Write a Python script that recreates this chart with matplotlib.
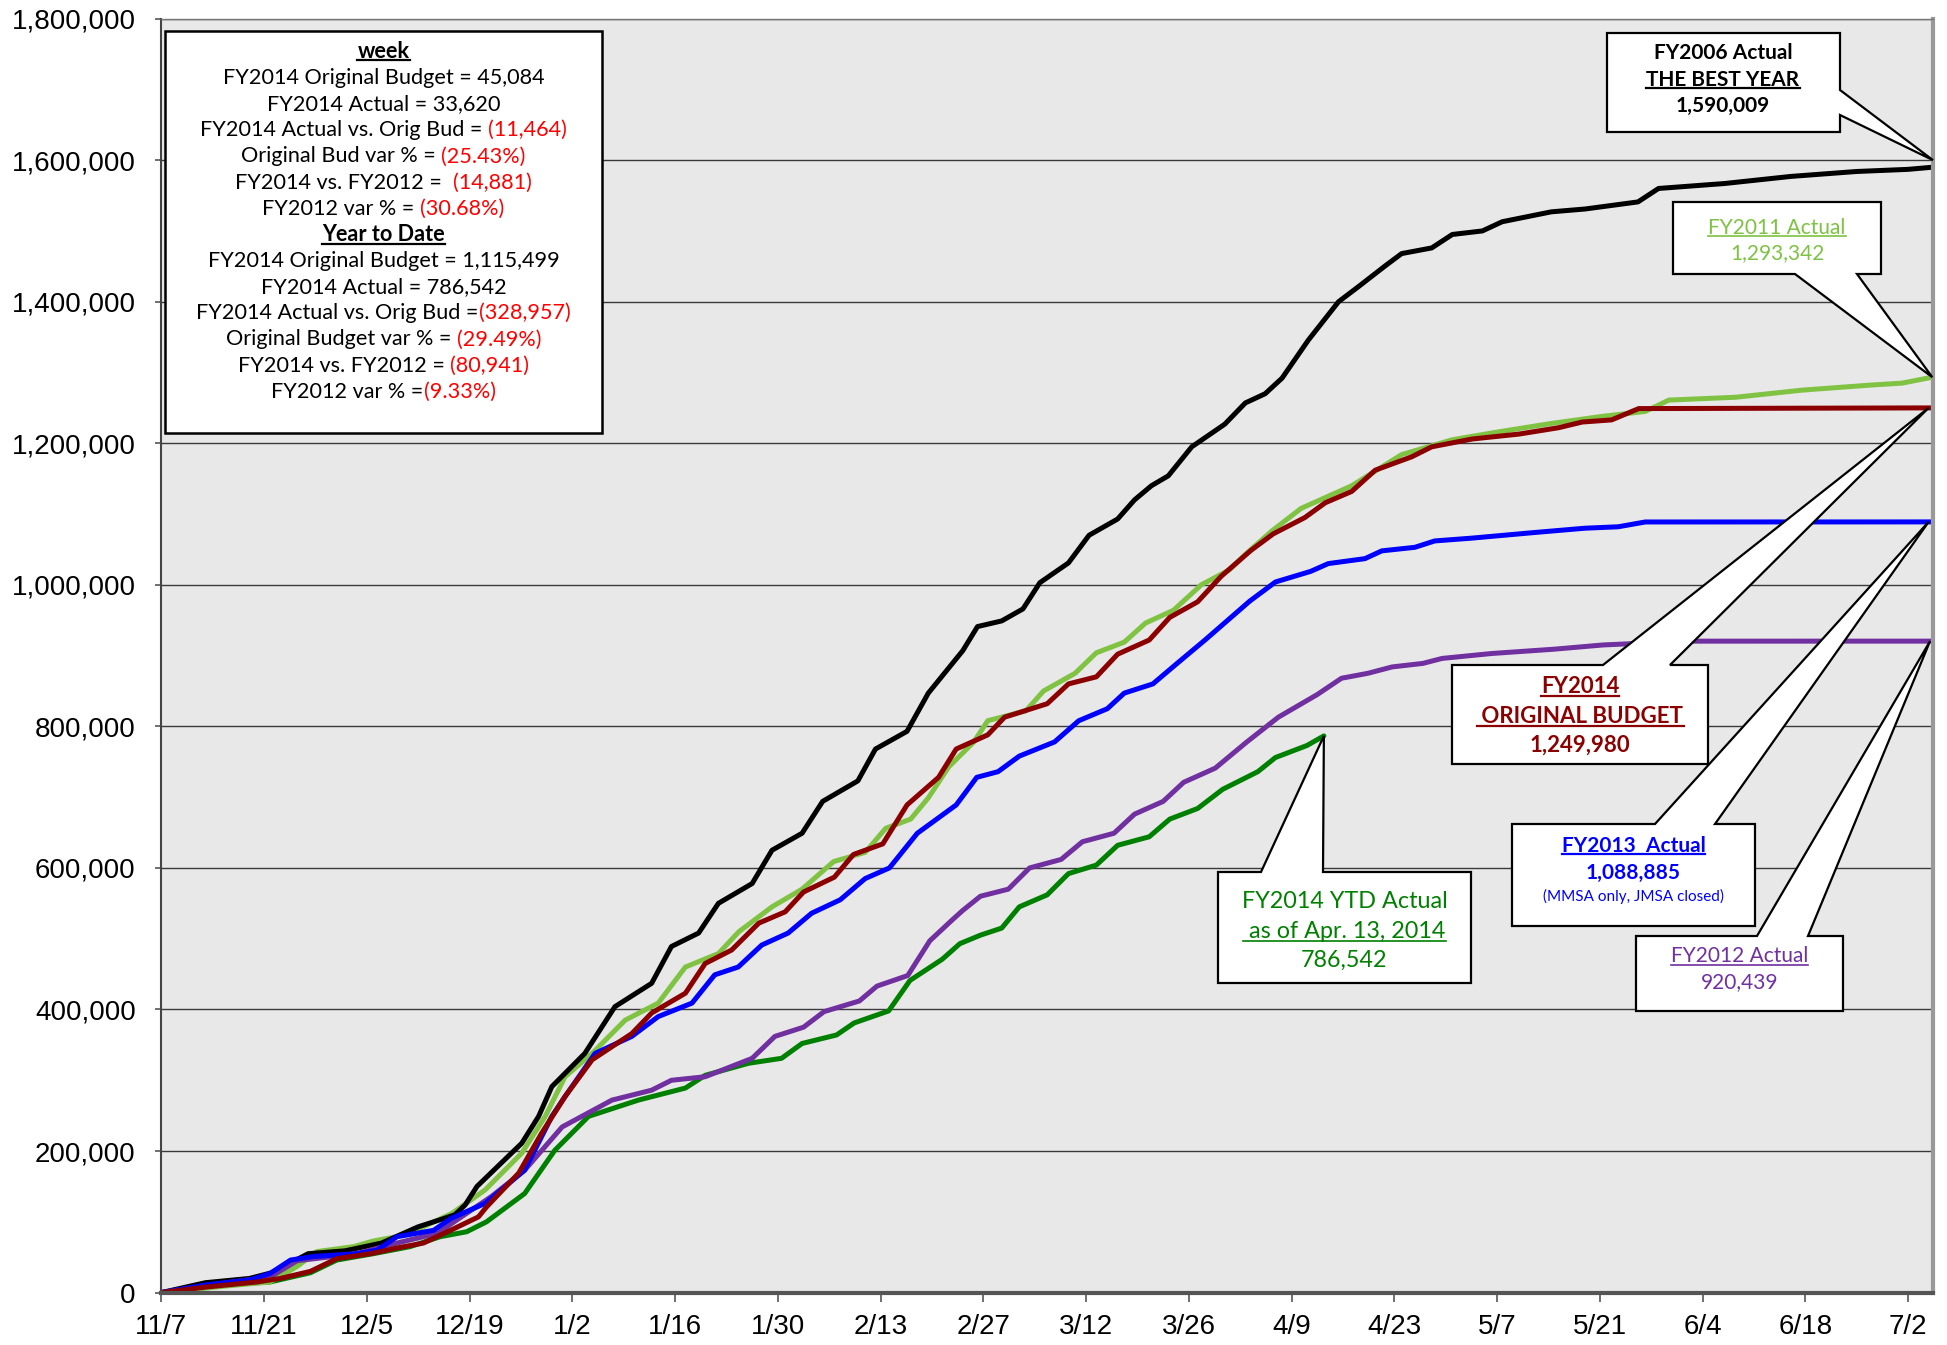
import numpy as np
import matplotlib
matplotlib.use("Agg")
import matplotlib.pyplot as plt
from matplotlib.patches import Polygon, Rectangle
from matplotlib.lines import Line2D
from matplotlib.ticker import FuncFormatter

W, H = 1947, 1345

# x = days since 11/7, y = cumulative total
days_06 = [0, 6, 12, 15, 20, 25, 30, 35, 38, 40, 41.4, 43, 44.1, 49.1, 51.4, 53.2, 55.5, 57.7, 61.8,
           66.8, 69.5, 73.2, 75.9, 80.5, 83.2, 87.3, 90.1, 94.9, 97.3, 101.6, 104.5, 109.2, 111.2,
           114.5, 117.4, 119.7, 123.6, 126.4, 130.3, 132.6, 134.9, 137.2, 140.4, 144.9, 147.7, 150.4,
           152.7, 156.3, 160.4, 163.2, 166.8, 169, 173.1, 175.9, 180, 182.7, 189.4, 194, 201.2, 204,
           213, 222, 231, 238, 241.3]
fy2006 = [0, 14000, 20000, 28000, 55000, 59000, 70000, 93000, 103000, 110000, 124000, 150000, 161000,
          211000, 249000, 291000, 315000, 338000, 404000, 437000, 489000, 508000, 550000, 578000,
          625000, 649000, 694000, 723000, 768000, 793000, 847000, 907000, 941000, 949000, 966000,
          1003000, 1031000, 1070000, 1093000, 1120000, 1140000, 1154000, 1195000, 1227000, 1257000,
          1270000, 1292000, 1346000, 1400000, 1422000, 1451000, 1468000, 1476000, 1495000, 1500000,
          1513000, 1527000, 1531000, 1541000, 1560000, 1567000, 1577000, 1584000, 1587000, 1590009]

days_11 = [0, 3, 8.5, 14.8, 18.5, 21.2, 26.2, 28.9, 32.1, 35.7, 39.6, 44.1, 49.1, 52.3, 55, 58.7, 63.2,
           67.7, 71.4, 75.9, 78.7, 83.2, 87.3, 91.6, 95.9, 98.7, 102.1, 104.5, 107.3, 110.7, 112.6,
           117.8, 120.2, 124.5, 127.4, 131.2, 134.1, 137.9, 141.7, 145.5, 147.7, 151.3, 155.3, 162.2,
           169, 175.9, 182.7, 189.4, 196.3, 202.2, 205.4, 214.5, 223.5, 232.6, 237.2, 241.3]
fy2011 = [0, 3000, 9000, 15000, 37000, 58000, 65000, 73000, 79000, 93000, 112000, 145000, 197000,
          249000, 305000, 338000, 385000, 409000, 460000, 479000, 510000, 545000, 570000, 609000,
          622000, 656000, 669000, 699000, 743000, 778000, 808000, 822000, 850000, 875000, 904000,
          919000, 946000, 964000, 1000000, 1021000, 1043000, 1076000, 1108000, 1140000, 1184000,
          1205000, 1217000, 1228000, 1238000, 1245000, 1261000, 1265000, 1275000, 1282000, 1285000,
          1293342]

days_bud = [0, 6.2, 13, 16.2, 20.3, 23.9, 28.5, 32.1, 35.7, 39.4, 43.2, 44.3, 48.7, 51.8, 55, 58.7,
            64.1, 66.8, 71.4, 74.1, 77.7, 81.4, 85, 87.5, 91.7, 94.3, 98.3, 101.6, 105.9, 108.3, 112.6,
            114.9, 120.7, 123.6, 127.4, 130.3, 134.6, 137.4, 141.2, 144.4, 148.5, 151.5, 155.8, 158.6,
            162.2, 165.4, 170.4, 173.1, 178.6, 185, 190.4, 193.6, 197.6, 201.3, 241.3]
fy2014_budget = [0, 8000, 15000, 20000, 30000, 48000, 55000, 63000, 70000, 88000, 107000, 121000,
                 169000, 225000, 277000, 329000, 366000, 395000, 423000, 465000, 484000, 522000,
                 538000, 566000, 587000, 619000, 634000, 689000, 728000, 768000, 788000, 813000,
                 832000, 860000, 870000, 902000, 922000, 954000, 976000, 1012000, 1049000, 1072000,
                 1095000, 1116000, 1132000, 1162000, 1181000, 1195000, 1206000, 1213000, 1222000,
                 1230000, 1233000, 1249000, 1249980]

days_13 = [0, 6.2, 12.1, 14.8, 17.6, 20.7, 26.6, 29.4, 32.1, 37.1, 39.5, 44.1, 49.5, 53.2, 55, 59.1,
           64.1, 67.7, 72.3, 75.4, 78.6, 81.8, 85.4, 88.6, 92.5, 95.9, 99.2, 103, 108.3, 111.1, 114,
           116.9, 121.7, 125, 128.9, 131.2, 135.1, 138.4, 142.2, 148.3, 151.8, 156.6, 159, 164, 166.3,
           170.8, 173.5, 178.6, 187.2, 194, 198.5, 202.2, 241.3]
fy2013 = [0, 11000, 18000, 27000, 46000, 51000, 55000, 60000, 79000, 88000, 105000, 126000, 173000,
          249000, 277000, 338000, 362000, 390000, 409000, 449000, 460000, 491000, 508000, 536000,
          555000, 585000, 600000, 649000, 689000, 728000, 736000, 758000, 778000, 808000, 825000,
          847000, 860000, 889000, 922000, 977000, 1004000, 1019000, 1030000, 1037000, 1048000,
          1053000, 1062000, 1066000, 1074000, 1080000, 1082000, 1088800, 1088885]

days_12 = [0, 6, 14.8, 18.5, 26.6, 32.1, 37.7, 39.6, 45, 49.5, 54.6, 61.4, 66.8, 69.5, 74.1, 80.5, 83.6,
           87.5, 90.3, 95.1, 97.5, 101.7, 104.7, 107.7, 109.2, 111.6, 115.4, 118.3, 122.6, 125.5,
           129.8, 132.6, 136.5, 139.3, 143.6, 147.9, 152.2, 157.5, 160.8, 164.4, 167.7, 171.9, 174.5,
           181.3, 189.7, 196.4, 207.6, 241.3]
fy2012 = [0, 10000, 22000, 45000, 55000, 70000, 84000, 98000, 136000, 173000, 234000, 272000, 286000,
          300000, 305000, 331000, 362000, 375000, 397000, 412000, 433000, 448000, 497000, 526000,
          540000, 560000, 570000, 600000, 612000, 637000, 649000, 676000, 694000, 721000, 741000,
          778000, 813000, 845000, 868000, 875000, 884000, 889000, 896000, 903000, 909000, 915000,
          920400, 920439]

days_14 = [0, 3, 8.5, 14.8, 20.3, 23.9, 28.9, 33.9, 38, 41.6, 44.3, 49.5, 53.6, 58.2, 65, 71.4, 74.1,
           80, 84.5, 87.3, 92, 94.4, 99.1, 102, 106.4, 108.8, 111.6, 114.5, 116.9, 120.7, 123.6, 127.4,
           130.3, 134.6, 137.4, 141.2, 144.6, 149.4, 151.8, 156.1, 158.4]
fy2014_actual = [0, 3000, 11000, 15000, 28000, 46000, 55000, 65000, 79000, 86000, 100000, 140000,
                 201000, 249000, 272000, 289000, 307000, 324000, 331000, 352000, 364000, 381000,
                 398000, 441000, 471000, 493000, 505000, 515000, 545000, 562000, 592000, 604000,
                 632000, 644000, 669000, 684000, 711000, 736000, 756000, 773000, 786542]

x_labels = ["11/7", "11/21", "12/5", "12/19", "1/2", "1/16", "1/30", "2/13", "2/27", "3/12",
            "3/26", "4/9", "4/23", "5/7", "5/21", "6/4", "6/18", "7/2"]

TICK_FONT = ["Liberation Sans", "DejaVu Sans"]
BOX_FONT = ["Lato", "DejaVu Sans"]

fig = plt.figure(figsize=(W / 100, H / 100), dpi=100)
ax = fig.add_axes([161.4 / W, 1 - 1292.6 / H, (1933 - 161.4) / W, (1292.6 - 18.6) / H])
ax.set_facecolor("#e8e8e8")

series = [
    (days_14, fy2014_actual, "#008000", 2.0),
    (days_11, fy2011, "#80c342", 2.1),
    (days_06, fy2006, "#000000", 2.2),
    (days_12, fy2012, "#7030a0", 2.3),
    (days_13, fy2013, "#0000ff", 2.4),
    (days_bud, fy2014_budget, "#8b0000", 2.5),
]
for d, v, c, z in series:
    ax.plot(d, v, color=c, lw=3.6, zorder=z, solid_joinstyle="round", solid_capstyle="round")

ax.set_xlim(0, 241.4)
ax.set_ylim(0, 1800000)
ax.set_xticks(np.arange(len(x_labels)) * 14)
ax.set_xticklabels(x_labels)
ax.set_yticks(np.arange(0, 1800001, 200000))
ax.yaxis.set_major_formatter(FuncFormatter(lambda v, p: f"{int(v):,}"))
ax.yaxis.grid(True, color="#3a3a3a", lw=1.0)
ax.set_axisbelow(True)
ax.tick_params(axis="x", length=6.5, width=1.2, color="#555555", pad=9, labelsize=20)
ax.tick_params(axis="y", length=4.5, width=1.2, color="#555555", pad=14, labelsize=20)
for lbl in ax.get_xticklabels() + ax.get_yticklabels():
    lbl.set_family(TICK_FONT)

ax.spines["left"].set_color("#444444")
ax.spines["left"].set_linewidth(1.5)
ax.spines["bottom"].set_color("#555555")
ax.spines["bottom"].set_linewidth(3)
ax.spines["right"].set_color("#999999")
ax.spines["right"].set_linewidth(3)
ax.spines["top"].set_color("#777777")
ax.spines["top"].set_linewidth(1)

renderer = fig.canvas.get_renderer()
to_fig = fig.transFigure.inverted()


def px(x, y):
    return (x / W, 1 - y / H)


def data_px(x, y):
    fx, fy = to_fig.transform(ax.transData.transform((x, y)))
    return fx * W, (1 - fy) * H


def width_of(s, size, weight, family):
    t = ax.text(0, 0, s, transform=fig.transFigure, fontsize=size, fontweight=weight, family=family)
    w = t.get_window_extent(renderer).width
    t.remove()
    return w


def put_line(cx, cy, pieces, size, weight="normal", underline=False, family=BOX_FONT):
    full = "".join(s for s, c in pieces)
    total = width_of(full, size, weight, family)
    x0 = cx - total / 2
    base = cy + 0.5 * size
    # black part from the left, coloured tail aligned to the line end
    xs = [x0]
    if len(pieces) == 2:
        xs.append(x0 + total - width_of(pieces[1][0], size, weight, family))
    for (s, c), x in zip(pieces, xs):
        ax.text(*px(x, base), s, transform=fig.transFigure, fontsize=size, fontweight=weight,
                family=family, color=c, ha="left", va="baseline", zorder=12)
    if underline:
        uy = base + 0.17 * size
        ax.add_line(Line2D([x0 / W, (x0 + total) / W], [1 - uy / H, 1 - uy / H], transform=fig.transFigure,
                           color=pieces[0][1], lw=1.2 if weight == "normal" else 1.6, zorder=12,
                           clip_on=False))


# summary box
ax.add_patch(Rectangle(px(165, 433), (602 - 165) / W, (433 - 31) / H, transform=fig.transFigure,
                       facecolor="white", edgecolor="black", lw=1.8, zorder=10, clip_on=False))
K, R = "black", "#ff0000"
box_lines = [
    ([("week", K)], "bold", True),
    ([("FY2014 Original Budget = 45,084", K)], "normal", False),
    ([("FY2014 Actual = 33,620", K)], "normal", False),
    ([("FY2014 Actual vs. Orig Bud = ", K), ("(11,464)", R)], "normal", False),
    ([("Original Bud var % = ", K), ("(25.43%)", R)], "normal", False),
    ([("FY2014 vs. FY2012 =  ", K), ("(14,881)", R)], "normal", False),
    ([("FY2012 var % = ", K), ("(30.68%)", R)], "normal", False),
    ([("Year to Date", K)], "bold", True),
    ([("FY2014 Original Budget = 1,115,499", K)], "normal", False),
    ([("FY2014 Actual = 786,542", K)], "normal", False),
    ([("FY2014 Actual vs. Orig Bud =", K), ("(328,957)", R)], "normal", False),
    ([("Original Budget var % = ", K), ("(29.49%)", R)], "normal", False),
    ([("FY2014 vs. FY2012 = ", K), ("(80,941)", R)], "normal", False),
    ([("FY2012 var % =", K), ("(9.33%)", R)], "normal", False),
]
for i, (pieces, wt, ul) in enumerate(box_lines):
    put_line(383.5, 50 + i * 26.15, pieces, 15.6, wt, ul)


def callout(box, side, base, tip):
    x0, y0, x1, y1 = box
    tx, ty = tip
    if side == "top":
        pts = [(x0, y0), (base[0], y0), (tx, ty), (base[1], y0), (x1, y0), (x1, y1), (x0, y1)]
    elif side == "bottom":
        pts = [(x0, y0), (x1, y0), (x1, y1), (base[1], y1), (tx, ty), (base[0], y1), (x0, y1)]
    else:
        pts = [(x0, y0), (x1, y0), (x1, base[0]), (tx, ty), (x1, base[1]), (x1, y1), (x0, y1)]
    ax.add_patch(Polygon([px(*p) for p in pts], closed=True, transform=fig.transFigure,
                         facecolor="white", edgecolor="black", lw=1.6, zorder=10, clip_on=False,
                         joinstyle="miter"))


xr = ax.get_xlim()[1]
callout((1607, 33, 1840, 132), "right", (90, 115), data_px(xr, 1600000))
callout((1673, 202, 1881, 274), "bottom", (1795, 1857), data_px(days_11[-1], fy2011[-1]))
callout((1452, 665, 1708, 764), "top", (1603, 1670), data_px(days_bud[-1] - 0.5, fy2014_budget[-1]))
callout((1512, 824, 1755, 926), "top", (1655, 1715), data_px(days_13[-1] - 0.5, fy2013[-1]))
callout((1636, 936, 1843, 1011), "top", (1757, 1808), data_px(days_12[-1] - 0.3, fy2012[-1]))
callout((1218, 872, 1471, 983), "top", (1261, 1323), data_px(days_14[-1], fy2014_actual[-1]))

put_line(1723, 51.7, [("FY2006 Actual", K)], 15, "bold")
put_line(1723, 78.3, [("THE BEST YEAR", K)], 15, "bold", True)
put_line(1723, 104, [("1,590,009", K)], 15, "bold")

G11 = "#7dc242"
put_line(1777, 226, [("FY2011 Actual", G11)], 15, "normal", True)
put_line(1777, 252, [("1,293,342", G11)], 15, "normal")

DR = "#8b0000"
put_line(1580, 685, [("FY2014", DR)], 16, "bold", True)
put_line(1580, 715, [(" ORIGINAL BUDGET", DR)], 16, "bold", True)
put_line(1580, 743.3, [("1,249,980", DR)], 16, "bold")

B = "#0000ff"
put_line(1633.5, 844.3, [("FY2013  Actual", B)], 15, "bold", True)
put_line(1633.5, 871, [("1,088,885", B)], 15, "bold")
put_line(1633.5, 895.7, [("(MMSA only, JMSA closed)", B)], 11, "normal")

PU = "#7030a0"
put_line(1739.5, 955, [("FY2012 Actual", PU)], 15, "normal", True)
put_line(1739.5, 980.7, [("920,439", PU)], 15, "normal")

G14 = "#008000"
put_line(1344.5, 900, [("FY2014 YTD Actual", G14)], 16.8, "normal")
put_line(1344.5, 929.3, [(" as of Apr. 13, 2014", G14)], 16.8, "normal", True)
put_line(1344.5, 958.3, [("786,542", G14)], 16.8, "normal")

fig.savefig("out.png", dpi=100, facecolor="white")
print("[DONE] Saved -> out.png")
